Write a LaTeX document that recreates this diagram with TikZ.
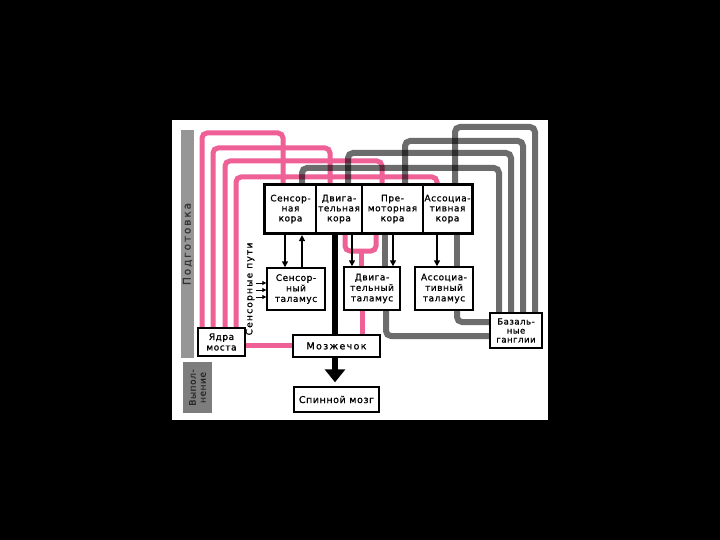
\documentclass[tikz,border=0pt]{standalone}
\usepackage{fontspec}
\setmainfont{DejaVu Sans}
\newfontfamily\lab{DejaVu Sans}[LetterSpace=6,FakeBold=0.8]
\newfontfamily\labw{DejaVu Sans}[LetterSpace=14,FakeBold=0.8]
\newfontfamily\labv{DejaVu Sans}[LetterSpace=18,FakeBold=0.8]
\usetikzlibrary{arrows.meta,fit,calc}
\pgfdeclarelayer{back}
\pgfdeclarelayer{lines}
\pgfsetlayers{back,lines,main}
\definecolor{pk}{RGB}{238,96,150}
\definecolor{gl}{RGB}{108,108,108}
\definecolor{barg}{RGB}{150,150,150}
\definecolor{barh}{RGB}{125,125,125}
\begin{document}
\begin{tikzpicture}[x=1pt,y=-1pt,
  box/.style={draw=black,line width=1.4pt,fill=white,inner sep=0pt,align=center,font=\lab\fontsize{9}{10.5}\selectfont},
  area/.style={draw=black,line width=1.2pt,fill=white,inner sep=0pt,align=center,minimum height=48pt,font=\lab\fontsize{9}{10}\selectfont},
  pkl/.style={draw=pk,line width=5pt,rounded corners=5pt},
  grl/.style={draw=gl,line width=6pt,rounded corners=5pt,blend mode=multiply},
  arr/.style={draw=black,line width=1.4pt,-{Triangle[length=6pt,width=6pt]}},
  sarr/.style={draw=black,line width=1pt,-{Triangle[length=4pt,width=4pt]}},
  vlabel/.style={rotate=90,inner sep=0pt,align=center}
]
\begin{pgfonlayer}{back}
\fill[black] (0,0) rectangle (720,540);
\fill[white] (172,120) rectangle (548,420);
\end{pgfonlayer}
\useasboundingbox (0,0) rectangle (720,540);

% cortex
\node[area,minimum width=51pt] (sc) at (290.5,209) {Сенсор-\\ная\\кора};
\node[area,minimum width=46pt] (mc) at (339,209) {Двига-\\тельная\\кора};
\node[area,minimum width=61pt] (pc) at (392.5,209) {Пре-\\моторная\\кора};
\node[area,minimum width=49pt] (ac) at (447.5,209) {Ассоциа-\\тивная\\кора};
\node[fit=(sc)(ac),draw=black,line width=3pt,inner sep=0pt] (cortex) {};

% other boxes
\node[box,minimum width=58pt,minimum height=42pt] (st) at (296,289) {Сенсор-\\ный\\таламус};
\node[box,minimum width=56pt,minimum height=43pt] (mt) at (372,288.5) {Двига-\\тельный\\таламус};
\node[box,minimum width=58pt,minimum height=43pt] (at) at (444,288.5) {Ассоциа-\\тивный\\таламус};
\node[box,minimum width=52pt,minimum height=35pt,font=\lab\fontsize{8.5}{9}\selectfont] (bg) at (516,330.5) {Базаль-\\ные\\ганглии};
\node[box,minimum width=47pt,minimum height=28pt] (pons) at (221.5,342) {Ядра\\моста};
\node[box,minimum width=87pt,minimum height=22pt,font=\labw\fontsize{9.5}{11}\selectfont] (cb) at (336.5,346) {Мозжечок};
\node[box,minimum width=85pt,minimum height=25pt,font=\lab\fontsize{9.5}{11}\selectfont] (sp) at (336.5,399.5) {Спинной мозг};

% side bars and labels
\node[vlabel,fill=barg,minimum width=228pt,minimum height=13pt,text=black!80,font=\labv\fontsize{10.5}{11}\selectfont] (prep) at (187.5,244) {Подготовка};
\node[vlabel,fill=barh,minimum width=51pt,minimum height=29pt,text=black!85,font=\lab\fontsize{9}{10}\selectfont] (exe) at (197.5,387.5) {Выпол-\\нение};
\node[vlabel,font=\labw\fontsize{9}{10}\selectfont] (sens) at (250,289) {Сенсорные пути};

\begin{pgfonlayer}{lines}
% pink: cortex -> pons
\draw[pkl] (283,0 |- cortex.north) |- (202,133) -- (202,0 |- pons.north);
\draw[pkl] (330,0 |- cortex.north) |- (213,148) -- (213,0 |- pons.north);
\draw[pkl] (382,0 |- cortex.north) |- (225,161) -- (225,0 |- pons.north);
\draw[pkl] (437,0 |- cortex.north) |- (236,177) -- (236,0 |- pons.north);
% pink: pons -> cerebellum -> motor thalamus -> cortex
\draw[pkl] (pons.east |- 0,345) -- (cb.west |- 0,345);
\draw[pkl] (362,0 |- cb.north) -- (362,0 |- mt.south);
\draw[pkl] (345,0 |- cortex.south) -- (345,251) -- (376,251) -- (376,0 |- cortex.south);
\draw[pkl] (361,251) -- (361,0 |- mt.north);

% gray: cortex -> basal ganglia
\draw[grl] (455,0 |- cortex.north) |- (535,127) -- (535,0 |- bg.north);
\draw[grl] (405,0 |- cortex.north) |- (523,141) -- (523,0 |- bg.north);
\draw[grl] (348,0 |- cortex.north) |- (511,153) -- (511,0 |- bg.north);
\draw[grl] (302,0 |- cortex.north) |- (499,168) -- (499,0 |- bg.north);
% gray: basal ganglia -> thalami -> cortex
\draw[grl] (bg.west |- 0,336) -| (386,0 |- mt.south);
\draw[grl] (bg.west |- 0,322) -| (457,0 |- at.south);
\draw[grl] (385,0 |- mt.north) -- (385,0 |- cortex.south);
\draw[grl] (457,0 |- at.north) -- (457,0 |- cortex.south);

% spine
\draw[line width=6pt,-{Triangle[length=13pt,width=20pt]}] (335,0 |- cortex.south) -- ($(335,0 |- sp.north)+(0,-4)$);

% black arrows
\draw[arr] (285,0 |- cortex.south) -- (285,0 |- st.north);
\draw[arr] (302,0 |- st.north) -- (302,0 |- cortex.south);
\draw[arr] (352,0 |- cortex.south) -- (352,0 |- mt.north);
\draw[arr] (393,0 |- cortex.south) -- (393,0 |- mt.north);
\draw[arr] (437,0 |- cortex.south) -- (437,0 |- at.north);
% sensory inputs
\foreach \yy [count=\i] in {283,290,297} {
  \coordinate (in\i) at (256,\yy);
  \draw[sarr] (in\i) -- (in\i -| st.west);
}
\end{pgfonlayer}
\end{tikzpicture}
\end{document}
